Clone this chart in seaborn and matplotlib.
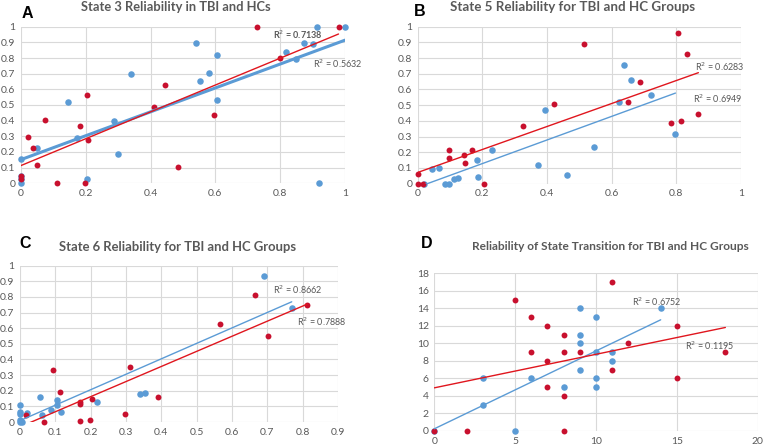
import numpy as np
import pandas as pd
import matplotlib
matplotlib.use("Agg")
import matplotlib.pyplot as plt
import seaborn as sns

# ---------------- data ----------------
# Panel A
a_blue_x = [0, 0, 0, 0, 0.048, 0.145, 0.172, 0.203, 0.287, 0.30, 0.34, 0.539, 0.552, 0.579, 0.605, 0.605,
            0.817, 0.848, 0.873, 0.901, 0.915, 0.92, 1.0]
a_blue_y = [0.155, 0.0, 0.027, 0.047, 0.225, 0.52, 0.29, 0.028, 0.40, 0.19, 0.70, 0.898, 0.653, 0.706, 0.817, 0.53,
            0.836, 0.796, 0.898, 0.887, 1.0, 0.0, 1.0]
a_red_x = [0, 0, 0.022, 0.038, 0.048, 0.075, 0.11, 0.181, 0.199, 0.204, 0.207, 0.41, 0.445, 0.486,
           0.597, 0.727, 0.80, 0.98]
a_red_y = [0.047, 0.027, 0.298, 0.225, 0.115, 0.404, 0.0, 0.368, 0.004, 0.562, 0.277, 0.485, 0.628,
           0.104, 0.436, 1.0, 0.80, 1.0]

# Panel B
b_blue_x = [0.02, 0.045, 0.067, 0.085, 0.098, 0.111, 0.124, 0.183, 0.187, 0.231, 0.373, 0.394, 0.461,
            0.546, 0.624, 0.639, 0.66, 0.722, 0.798]
b_blue_y = [0.0, 0.091, 0.102, 0.0, 0.0, 0.03, 0.034, 0.151, 0.045, 0.214, 0.121, 0.469, 0.053,
            0.236, 0.518, 0.756, 0.658, 0.565, 0.318]
b_red_x = [0, 0, 0.0175, 0.098, 0.098, 0.142, 0.147, 0.168, 0.204, 0.327, 0.421, 0.514, 0.651, 0.687,
           0.783, 0.807, 0.816, 0.834, 0.869]
b_red_y = [0.059, 0.0, 0.0, 0.212, 0.166, 0.18, 0.132, 0.212, 0.0, 0.367, 0.505, 0.89, 0.522, 0.65,
           0.384, 0.96, 0.40, 0.824, 0.442]

# Panel C
c_blue_x = [0, 0, 0, 0, 0, 0.005, 0.021, 0.057, 0.062, 0.089, 0.106, 0.106, 0.115, 0.217, 0.341,
            0.354, 0.69, 0.769]
c_blue_y = [0.109, 0.064, 0.05, 0.015, 0.0, 0.0, 0.06, 0.157, 0.047, 0.079, 0.14, 0.109, 0.064, 0.13,
            0.181, 0.187, 0.936, 0.73]
c_red_x = [0.016, 0.069, 0.094, 0.113, 0.171, 0.171, 0.171, 0.197, 0.203, 0.296, 0.31, 0.39, 0.567,
           0.665, 0.701, 0.813]
c_red_y = [0.047, 0.0, 0.33, 0.19, 0.13, 0.113, 0.009, 0.013, 0.145, 0.049, 0.349, 0.16, 0.63, 0.815,
           0.551, 0.751]

# Panel D
d_blue_x = [0, 3, 3, 5, 6, 8, 9, 9, 9, 9, 10, 10, 10, 10, 11, 11, 14]
d_blue_y = [0, 6, 3, 0, 6, 5, 14, 11, 10, 7, 13, 9, 6, 5, 9, 8, 14]
d_red_x = [0, 2, 8, 5, 6, 6, 7, 7, 7, 8, 8, 8, 9, 11, 11, 12, 15, 15, 18]
d_red_y = [0, 0, 0, 15, 13, 9, 12, 8, 5, 11, 9, 4, 9, 17, 7, 10, 12, 6, 9]

titles = ["State 3 Reliability in TBI and HCs",
          "State 5 Reliability for TBI and HC Groups",
          "State 6 Reliability for TBI and HC Groups",
          "Reliability of State Transition for TBI and HC Groups"]
letters = ["A", "B", "C", "D"]
r2_texts = [("R$^2$ = 0.7138", "R$^2$ = 0.5632"),
            ("R$^2$ = 0.6283", "R$^2$ = 0.6949"),
            ("R$^2$ = 0.7888", "R$^2$ = 0.8662"),
            ("R$^2$ = 0.1195", "R$^2$ = 0.6752")]

# ---------------- style ----------------
sns.set_theme(style="white")
plt.rcParams["font.family"] = ["Lato", "DejaVu Sans"]

BLUE = "#5B9BD5"
RED = "#C8102E"
REDLINE = "#E0161E"
GRID = "#D9D9D9"
TXT = "#595959"

fig = plt.figure(figsize=(7.63, 4.47), dpi=100)

W, H = 763.0, 447.0
def ax_at(l, r, t, b):
    return fig.add_axes([l / W, 1 - b / H, (r - l) / W, (b - t) / H])

axes = [ax_at(21, 345, 26.7, 183.3),
        ax_at(417.7, 740.7, 26.7, 183.7),
        ax_at(20, 338, 265.7, 422),
        ax_at(434.3, 757.7, 273.3, 431)]

data = [(a_blue_x, a_blue_y, a_red_x, a_red_y),
        (b_blue_x, b_blue_y, b_red_x, b_red_y),
        (c_blue_x, c_blue_y, c_red_x, c_red_y),
        (d_blue_x, d_blue_y, d_red_x, d_red_y)]

xlims = [(0, 1), (0, 1), (0, 0.9), (0, 20)]
ylims = [(0, 1), (0, 1), (0, 1), (0, 18)]
xticks = [np.arange(0, 1.01, 0.2), np.arange(0, 1.01, 0.2), np.arange(0, 0.91, 0.1), np.arange(0, 21, 5)]
yticks = [np.arange(0, 1.01, 0.1), np.arange(0, 1.01, 0.1), np.arange(0, 1.01, 0.1), np.arange(0, 19, 2)]
blue_lw = [2.2, 1.0, 1.0, 1.0]

def fmt(v):
    s = f"{v:.1f}" if abs(v - round(v)) > 1e-9 else f"{int(round(v))}"
    return s

for i, ax in enumerate(axes):
    bx, by, rx, ry = data[i]
    dfb = pd.DataFrame({"x": bx, "y": by})
    dfr = pd.DataFrame({"x": rx, "y": ry})
    sns.scatterplot(data=dfb, x="x", y="y", ax=ax, color=BLUE, s=22, linewidth=0, zorder=3, clip_on=False)
    sns.scatterplot(data=dfr, x="x", y="y", ax=ax, color=RED, s=18, linewidth=0, zorder=3, clip_on=False)
    sns.regplot(data=dfb, x="x", y="y", ax=ax, scatter=False, ci=None, truncate=True,
                line_kws=dict(color=BLUE, lw=blue_lw[i], zorder=4))
    sns.regplot(data=dfr, x="x", y="y", ax=ax, scatter=False, ci=None, truncate=True,
                line_kws=dict(color=REDLINE, lw=1.0, zorder=4))
    ax.set_xlim(*xlims[i])
    ax.set_ylim(*ylims[i])
    ax.set_xticks(xticks[i])
    ax.set_yticks(yticks[i])
    if i == 3:
        ax.set_xticklabels([str(int(v)) for v in xticks[i]])
        ax.set_yticklabels([str(int(v)) for v in yticks[i]])
    else:
        ax.set_xticklabels([fmt(v) for v in xticks[i]])
        ax.set_yticklabels([fmt(v) for v in yticks[i]])
    ax.set_xlabel("")
    ax.set_ylabel("")
    ax.grid(True, color=GRID, lw=0.8)
    ax.set_axisbelow(True)
    for sp in ax.spines.values():
        sp.set_visible(False)
    ax.tick_params(axis="both", length=0, labelsize=7.5, colors=TXT, pad=4)

# R^2 annotations
kw = dict(fontsize=6.5, color=TXT, clip_on=False, va="center", ha="left")
axes[0].text(0.778, 0.946, r2_texts[0][0], fontweight="bold", **kw)
axes[0].text(0.90, 0.763, r2_texts[0][1], **kw)
axes[1].text(0.858, 0.743, r2_texts[1][0], **kw)
axes[1].text(0.852, 0.539, r2_texts[1][1], **kw)
axes[2].text(0.784, 0.642, r2_texts[2][0], **kw)
axes[2].text(0.716, 0.849, r2_texts[2][1], **kw)
axes[3].text(15.5, 9.78, r2_texts[3][0], **kw)
axes[3].text(12.24, 14.69, r2_texts[3][1], **kw)

# Titles and panel letters
tkw = dict(fontweight="bold", color=TXT, ha="center", va="center")
fig.text(176 / W, 1 - 7 / H, titles[0], fontsize=9.3, **tkw)
fig.text(573 / W, 1 - 7 / H, titles[1], fontsize=9.6, **tkw)
fig.text(178 / W, 1 - 247 / H, titles[2], fontsize=9.4, **tkw)
fig.text(610 / W, 1 - 247 / H, titles[3], fontsize=8.6, **tkw)

lkw = dict(fontsize=11.5, fontweight="bold", color="black", ha="center", va="center",
           family=["Liberation Sans", "DejaVu Sans"])
fig.text(27 / W, 1 - 13 / H, letters[0], **lkw)
fig.text(420 / W, 1 - 12 / H, letters[1], **lkw)
fig.text(25 / W, 1 - 243 / H, letters[2], **lkw)
fig.text(427 / W, 1 - 244 / H, letters[3], **lkw)

fig.savefig("out.png", dpi=100, facecolor="white")
